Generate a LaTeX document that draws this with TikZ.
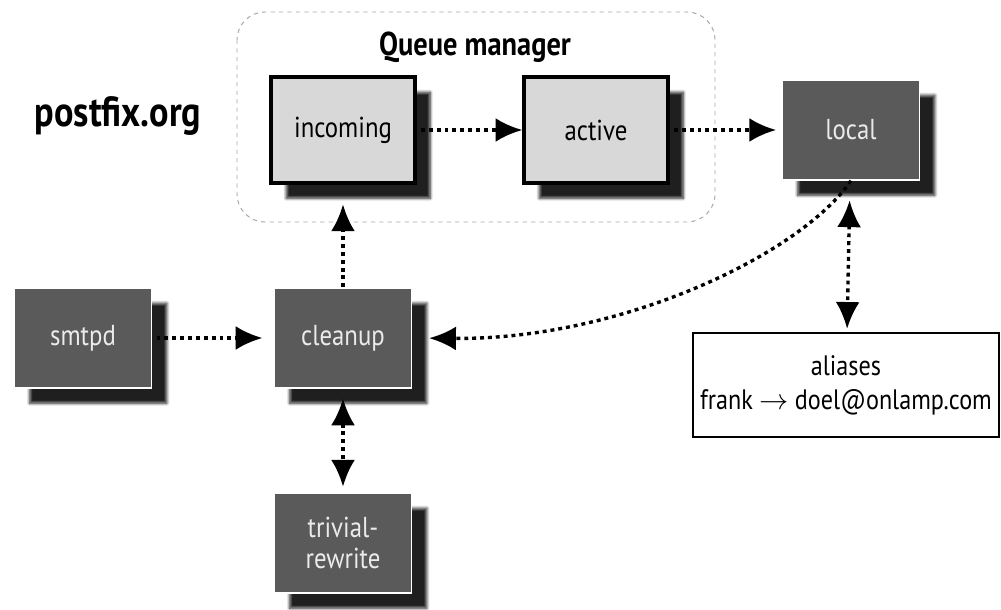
\documentclass[tikz,border=0pt]{standalone}
\usepackage{fontspec}
\setmainfont{PT Sans}[FakeStretch=0.86]
\usetikzlibrary{arrows.meta,shadows.blur}

\definecolor{procgray}{HTML}{5A5A5A}
\definecolor{queuegray}{HTML}{D8D8D8}

\begin{document}
\begin{tikzpicture}[x=0.025cm, y=-0.025cm, thick, >={Latex[length=19pt,width=17pt]},
		proc/.style={draw=white, line width=1pt, fill=procgray, text=white!92!black,
			minimum width=3.43cm, minimum height=2.5cm, inner sep=0pt, align=center,
			font=\fontsize{20.5}{22}\selectfont,
			blur shadow={shadow xshift=0.38cm, shadow yshift=-0.38cm, shadow opacity=88, shadow blur steps=8}},
		queue/.style={proc, draw=black, line width=2.4pt, fill=queuegray, text=black,
			minimum width=3.6cm, minimum height=2.65cm},
		flow/.style={line width=2.4pt, dash pattern=on 2.8pt off 2.8pt}]
		\useasboundingbox (0,0) rectangle (1001,610);

		% queue manager
		\draw[black!35, dashed, line width=0.7pt, rounded corners=0.7cm] (237,12) rectangle (715,222);
		\node[font=\bfseries\fontsize{23.5}{26}\selectfont] (qmtitle) at (475,47) {Queue manager};
		\node[font=\bfseries\fontsize{30}{34}\selectfont] (site) at (118,116) {postfix.org};

		\node[queue] (incoming) at (343,130) {incoming};
		\node[queue] (active) at (596,130) {active};
		\node[proc] (local) at (851,130) {local};
		\node[proc] (smtpd) at (83,338) {smtpd};
		\node[proc] (cleanup) at (343,338) {cleanup};
		\node[proc] (trivial) at (343,543) {trivial-\\rewrite};
		\node[draw, line width=2pt, fill=white, minimum width=7.65cm, minimum height=2.6cm,
			inner sep=1pt, align=center, font=\fontsize{20}{24}\selectfont] (aliases) at (846,385)
			{aliases\\frank $\rightarrow$ doel@onlamp.com};

		% connectors
		\draw[flow, ->, shorten <=3pt] (incoming) -- (active);
		\draw[flow, ->, shorten <=3pt, shorten >=4pt] (active) -- (local);
		\draw[flow, ->, shorten <=3pt, shorten >=8pt] (smtpd) -- (cleanup);
		\draw[flow, ->, shorten >=14pt] (cleanup) -- (incoming);
		\draw[flow, <->, shorten <=7pt, shorten >=4pt] (cleanup) -- (trivial);
		\draw[flow, <->, shorten <=14pt, shorten >=2pt] (local) -- (aliases);
		\draw[flow, ->, shorten >=12pt] (local.south) .. controls (800,255) and (620,340) .. (cleanup.east);
	\end{tikzpicture}
\end{document}
